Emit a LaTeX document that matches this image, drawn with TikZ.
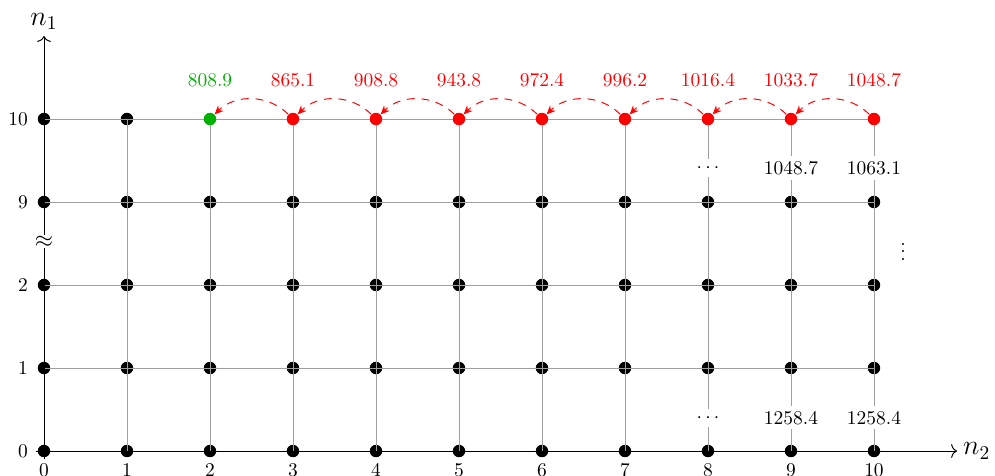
\documentclass[tikz,border=0pt]{standalone}
\usetikzlibrary{arrows.meta}
\begin{document}
\begin{tikzpicture}[x=1.5cm,y=1.5cm,
  dot/.style={circle,fill=#1,inner sep=0pt,minimum size=6.4pt},
  dot/.default=black,
  gridline/.style={gray!75,line width=0.5pt},
  axis/.style={black,line width=0.5pt,-{To[length=3pt,width=7pt]}},
  val/.style={font=\normalsize,fill=white,inner sep=2.5pt},
  lab/.style={font=\normalsize,inner sep=0pt},
  toplab/.style={font=\normalsize,text=#1},
  arcarrow/.style={red,dash pattern=on 4pt off 3.5pt,line width=0.5pt,-{Stealth[length=4.5pt,width=4pt]},bend right=45}
]
\useasboundingbox (-0.530,-0.289) rectangle (11.458,5.434);
% lower rows of dots
\foreach \c in {0,...,10}{
  \foreach \r in {0,...,3}{
    \node[dot] (p-\c-\r) at (\c,\r) {};
  }
}
\foreach \c in {0,1}{\node[dot] (p-\c-4) at (\c,4) {};}
% grid lines
\foreach \r in {1,...,4}{
  \draw[gridline] (p-0-\r.center) -- (10,\r);
}
\foreach \c in {1,...,10}{
  \draw[gridline] (p-\c-0.center) -- (\c,4);
}
% axes
\coordinate (xs) at (-0.1,0);
\coordinate (xe) at (11,0);
\coordinate (ys) at (0,-0.1);
\coordinate (ye) at (0,5);
\draw[axis] (xs) -- (xe);
\draw[axis] (ys) -- (ye);
\node[font=\Large,anchor=west,inner sep=3pt] (n2) at (xe) {$n_2$};
\node[font=\Large,anchor=south,inner sep=3pt] (n1) at (ye) {$n_1$};
% top row coloured dots
\node[dot=green!70!black] (p-2-4) at (2,4) {};
\foreach \c in {3,...,10}{\node[dot=red] (p-\c-4) at (\c,4) {};}
% approx symbol on axis
\node[fill=white,inner sep=0.5pt,font=\large] (apx) at (0,2.52) {$\approx$};
% vertical dots
\node (vd) at (10.35,2.47) {$\vdots$};
% y labels
\foreach \r/\t in {0/0,1/1,2/2,3/9,4/10}{
  \node[lab,anchor=east] (yl-\r) at (-0.19,\r) {\t};
}
% x labels
\foreach \c in {0,...,10}{
  \node[lab,anchor=north] (xl-\c) at (\c,-0.145) {\c};
}
% value labels
\node[val] (a8) at (8,3.41) {$\cdots$};
\node[val] (a9) at (9,3.41) {1048.7};
\node[val] (a10) at (10,3.41) {1063.1};
\node[val] (b8) at (8,0.40) {$\cdots$};
\node[val] (b9) at (9,0.40) {1258.4};
\node[val] (b10) at (10,0.40) {1258.4};
% top values
\node[toplab=green!70!black] (t2) at (2,4.47) {808.9};
\foreach \c/\v in {3/865.1,4/908.8,5/943.8,6/972.4,7/996.2,8/1016.4,9/1033.7,10/1048.7}{
  \node[toplab=red] (t\c) at (\c,4.47) {\v};
}
% arcs
\foreach \c [evaluate=\c as \d using int(\c-1)] in {3,...,10}{
  \draw[arcarrow] (p-\c-4) to (p-\d-4);
}
\end{tikzpicture}
\end{document}
